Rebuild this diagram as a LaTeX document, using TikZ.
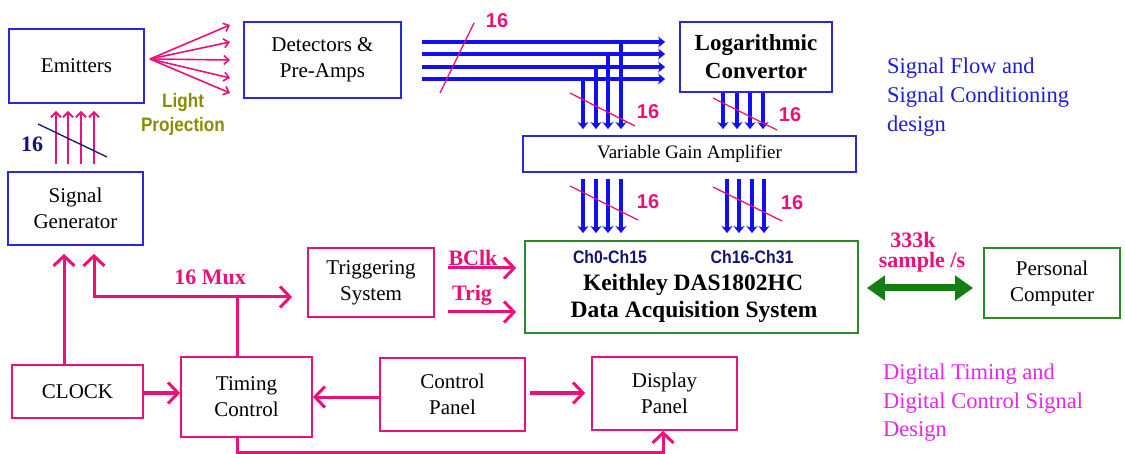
\documentclass[tikz,border=0pt]{standalone}
\usepackage{fontspec}
\setmainfont{Liberation Serif}
\setsansfont{Liberation Sans}
\newfontfamily\condsans[FakeStretch=0.88]{Liberation Sans}
\usetikzlibrary{arrows.meta}
\definecolor{boxblue}{RGB}{40,40,225}
\definecolor{busblue}{RGB}{16,16,240}
\definecolor{pk}{RGB}{232,18,120}
\definecolor{mag}{RGB}{228,40,228}
\definecolor{gbox}{RGB}{40,140,40}
\definecolor{garrow}{RGB}{20,125,20}
\definecolor{olive}{RGB}{140,140,0}
\definecolor{navy}{RGB}{20,20,115}
\definecolor{txtblue}{RGB}{30,30,215}
\tikzset{
  box/.style={draw, line width=1.8pt, inner sep=0pt, align=center, fill=white,
    font=\fontsize{21}{26}\selectfont},
  bbox/.style={box, draw=boxblue},
  pbox/.style={box, draw=pk},
  gbbox/.style={box, draw=gbox},
  pline/.style={draw=pk, line width=3pt},
  parrow/.style={pline, -{Straight Barb[length=10pt,width=21pt,line width=3pt]}},
  psmall/.style={draw=pk, line width=2.8pt, -{Straight Barb[length=5pt,width=10pt,line width=2pt]}},
  pfan/.style={draw=pk, line width=1.6pt, -{Straight Barb[length=5pt,width=9pt,line width=1.6pt]}},
  bus/.style={draw=busblue, line width=3.3pt, -{Stealth[length=7pt,width=11pt,inset=2pt]}},
  slash/.style={draw=pk, line width=1.3pt},
  pnum/.style={text=pk, font=\sffamily\bfseries\fontsize{20}{22}\selectfont, inner sep=0pt},
  plabel/.style={text=pk, font=\bfseries\fontsize{22}{25}\selectfont, inner sep=0pt},
  chlabel/.style={text=navy, font=\condsans\bfseries\fontsize{18}{20}\selectfont, inner sep=0pt},
}
\begin{document}
\begin{tikzpicture}[x=1pt,y=-1pt]
\useasboundingbox (0,0) rectangle (1125,454);
\fill[white] (0,0) rectangle (1125,454);

% boxes
\node[bbox, minimum width=135pt, minimum height=74pt] (emit) at (76.5,66) {Emitters};
\node[bbox, minimum width=157pt, minimum height=76pt] (det) at (322.5,60) {Detectors \&\\Pre-Amps};
\node[bbox, minimum width=152pt, minimum height=70pt, font=\bfseries\fontsize{23}{28}\selectfont] (log) at (756,57) {Logarithmic\\Convertor};
\node[bbox, minimum width=333pt, minimum height=36pt, font=\fontsize{19}{22}\selectfont] (vga) at (689.5,154) {Variable Gain Amplifier};
\node[bbox, minimum width=135pt, minimum height=73pt] (sg) at (75.5,208.5) {Signal\\Generator};
\node[pbox, minimum width=126pt, minimum height=69pt] (trig) at (371,282.5) {Triggering\\System};
\node[gbbox, minimum width=333pt, minimum height=92pt] (das) at (691.5,287) {};
\node[gbbox, minimum width=136pt, minimum height=70pt] (pc) at (1052,283) {Personal\\Computer};
\node[pbox, minimum width=131pt, minimum height=53pt] (clk) at (77.5,391.5) {CLOCK};
\node[pbox, minimum width=131pt, minimum height=80pt] (tc) at (246.5,397) {Timing\\Control};
\node[pbox, minimum width=145pt, minimum height=73pt] (cp) at (452.5,394.5) {Control\\Panel};
\node[pbox, minimum width=145pt, minimum height=73pt] (dp) at (664.5,393.5) {Display\\Panel};

% DAS text
\node[chlabel] (ch0) at (610,257) {Ch0-Ch15};
\node[chlabel] (ch16) at (752,257) {Ch16-Ch31};
\node[font=\bfseries\fontsize{23.5}{27}\selectfont, inner sep=0pt] (dast1) at (693,285) {Keithley DAS1802HC};
\node[font=\bfseries\fontsize{23.5}{27}\selectfont, inner sep=0pt] (dast2) at (694,312) {Data Acquisition System};

% light projection fan
\coordinate (fan) at (150,59);
\foreach \yy in {25,42,60,78,93} \draw[pfan] (fan) -- (230,\yy);
\node[text=olive, font=\condsans\bfseries\fontsize{19.5}{24}\selectfont, align=center, inner sep=0pt] (lp) at (183,114) {Light\\Projection};

% signal generator -> emitters
\foreach \xx in {56,68,81,94} \draw[psmall, shorten <=7pt, shorten >=7pt] (sg.north -| \xx,0) -- (emit.south -| \xx,0);
\draw[navy, line width=1.3pt] (38,124) -- (107,157);
\node[text=navy, font=\bfseries\fontsize{22}{24}\selectfont, inner sep=0pt] (n16a) at (32,144) {16};

% bus detectors -> log
\foreach \yy in {42,54,67,79} \draw[bus, shorten <=20pt, shorten >=14pt] (det.east |- 0,\yy) -- (log.west |- 0,\yy);
\draw[bus, shorten >=6pt] (621,42) -- (vga.north -| 621,0);
\draw[bus, shorten >=6pt] (608,54) -- (vga.north -| 608,0);
\draw[bus, shorten >=6pt] (596,67) -- (vga.north -| 596,0);
\draw[bus, shorten >=6pt] (583,79) -- (vga.north -| 583,0);
\draw[slash] (440,93) -- (474,23);
\node[pnum] (n16b) at (497,21) {16};
\draw[slash] (570,93) -- (635,126);
\node[pnum] (n16c) at (648,112) {16};

% log -> vga
\foreach \xx in {723,737,750,763} \draw[bus, shorten >=6pt] (log.south -| \xx,0) -- (vga.north -| \xx,0);
\draw[slash] (713,98) -- (777,130);
\node[pnum] (n16d) at (790,115) {16};

% vga -> das
\foreach \xx in {583,596,608,621} \draw[bus, shorten <=6pt, shorten >=7pt] (vga.south -| \xx,0) -- (das.north -| \xx,0);
\foreach \xx in {727,739,752,764} \draw[bus, shorten <=6pt, shorten >=7pt] (vga.south -| \xx,0) -- (das.north -| \xx,0);
\draw[slash] (570,186) -- (638,220);
\node[pnum] (n16e) at (648,202) {16};
\draw[slash] (713,187) -- (782,221);
\node[pnum] (n16f) at (792,203) {16};

% das <-> pc
\draw[draw=garrow, line width=7pt, {Triangle[length=18pt,width=24pt]}-{Triangle[length=18pt,width=24pt]}, shorten <=8pt, shorten >=10pt] (das.east |- 0,288) -- (pc.west |- 0,288);
\node[plabel] (s333) at (913,240) {333k};
\node[plabel] (ssam) at (922,262) {sample /s};

% timing network
\draw[parrow, shorten >=8pt] (clk.north -| 64,0) -- (sg.south -| 64,0);
\draw[pline] (tc.north -| 237,0) -- (237,297) coordinate (mux);
\draw[parrow, shorten >=8pt] (mux) -| (sg.south -| 94,0);
\draw[parrow, shorten >=15pt] (mux) -- (trig.west |- mux);
\node[plabel] (muxl) at (210,277) {16 Mux};
\draw[parrow, shorten <=13pt, shorten >=8pt] (trig.east |- 0,268) -- (das.west |- 0,268);
\draw[parrow, shorten <=13pt, shorten >=8pt] (trig.east |- 0,312) -- (das.west |- 0,312);
\node[plabel] (bclk) at (473,258) {BClk};
\node[plabel] (trigl) at (472,295) {Trig};
\draw[parrow, shorten >=0pt] (clk.east |- 0,393) -- (tc.west |- 0,393);
\draw[parrow] (cp.west |- 0,397) -- (tc.east |- 0,397);
\draw[parrow, shorten <=4pt, shorten >=6pt] (cp.east |- 0,393) -- (dp.west |- 0,393);
\draw[parrow] (tc.south -| 237,0) |- (663,452) -- (dp.south -| 663,0);

% legends
\node[text=txtblue, font=\fontsize{22.5}{29}\selectfont, align=left, anchor=west, inner sep=0pt] (leg1) at (887,97) {Signal Flow and\\Signal Conditioning\\design};
\node[text=mag, font=\fontsize{22.5}{28.5}\selectfont, align=left, anchor=west, inner sep=0pt] (leg2) at (883,403) {Digital Timing and\\Digital Control Signal\\Design};
\end{tikzpicture}
\end{document}
